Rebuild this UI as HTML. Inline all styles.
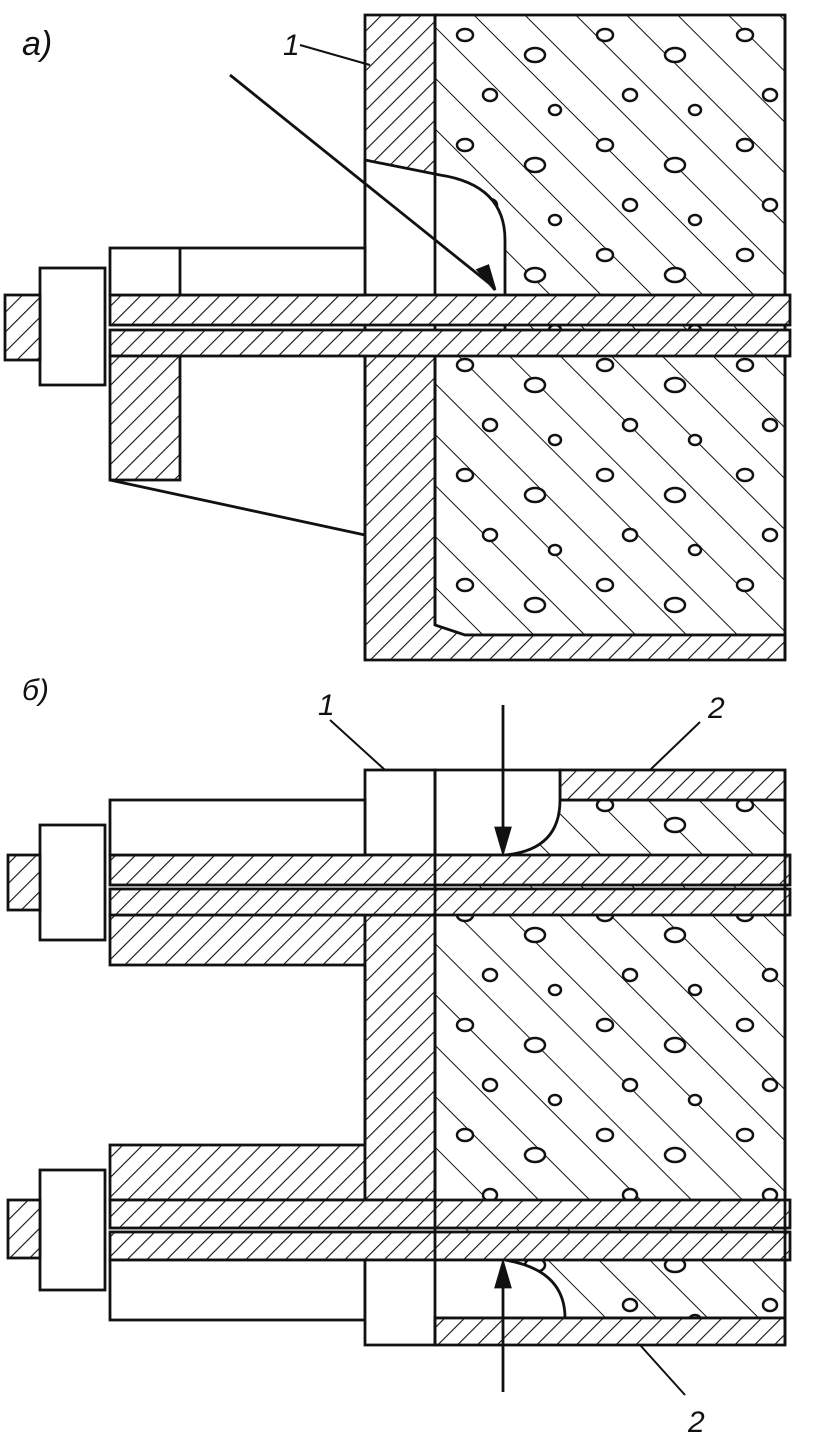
<!DOCTYPE html>
<html><head><meta charset="utf-8"><style>
html,body{margin:0;padding:0;background:#fff;}
svg{display:block;}
text{font-family:"Liberation Sans",sans-serif;font-style:italic;fill:#111;}
</style></head><body>
<svg width="817" height="1441" viewBox="0 0 817 1441" xmlns="http://www.w3.org/2000/svg">
<defs>
<pattern id="h" width="14" height="14" patternUnits="userSpaceOnUse" patternTransform="rotate(45)">
<rect width="14" height="14" fill="#fff"/><line x1="0" y1="0" x2="0" y2="14" stroke="#111" stroke-width="2.2"/></pattern>
<pattern id="c" width="36" height="36" patternUnits="userSpaceOnUse" patternTransform="rotate(-45)">
<rect width="36" height="36" fill="#fff"/><line x1="0" y1="0" x2="0" y2="36" stroke="#111" stroke-width="2"/></pattern>
<pattern id="o" width="140" height="110" patternUnits="userSpaceOnUse" x="435" y="15">
<ellipse cx="30" cy="20" rx="8" ry="6" fill="#fff" stroke="#111" stroke-width="2.5"/>
<ellipse cx="100" cy="40" rx="10" ry="7" fill="#fff" stroke="#111" stroke-width="2.5"/>
<ellipse cx="55" cy="80" rx="7" ry="6" fill="#fff" stroke="#111" stroke-width="2.5"/>
<ellipse cx="120" cy="95" rx="6" ry="5" fill="#fff" stroke="#111" stroke-width="2.5"/>
</pattern>
</defs>
<g stroke="#111" stroke-width="2.8" fill="none">
<!-- ===== a ===== -->
<rect x="435" y="15" width="350" height="620" fill="url(#c)"/>
<rect x="435" y="15" width="350" height="620" fill="url(#o)" stroke="none"/>
<path d="M365 15H435V625L465 635H785V660H365Z" fill="url(#h)"/>
<path d="M365 160L440 175Q505 185 505 240V355H365Z" fill="#fff"/>
<path d="M435 15V625M785 15V660" />
<rect x="110" y="295" width="680" height="30" fill="url(#h)"/>
<rect x="110" y="330" width="680" height="26" fill="url(#h)"/>
<rect x="110" y="248" width="255" height="47" fill="#fff"/>
<line x1="180" y1="248" x2="180" y2="295"/>
<rect x="110" y="356" width="70" height="124" fill="url(#h)"/>
<path d="M110 480L365 535M365 356V660"/>
<rect x="40" y="268" width="65" height="117" fill="#fff"/>
<rect x="5" y="295" width="35" height="65" fill="url(#h)"/>
<line x1="230" y1="75" x2="495" y2="288"/>
<path d="M495 290L478 270L488 266Z" fill="#111"/>
<line x1="300" y1="45" x2="370" y2="65" stroke-width="2"/>
<!-- ===== b ===== -->
<rect x="435" y="800" width="350" height="518" fill="url(#c)"/>
<rect x="435" y="800" width="350" height="518" fill="url(#o)" stroke="none"/>
<rect x="560" y="770" width="225" height="30" fill="url(#h)"/>
<path d="M435 770H560V800Q560 850 505 855H435Z" fill="#fff"/>
<rect x="365" y="770" width="70" height="85" fill="#fff"/>
<rect x="110" y="915" width="255" height="50" fill="url(#h)"/>
<rect x="110" y="1145" width="255" height="55" fill="url(#h)"/>
<rect x="365" y="915" width="70" height="285" fill="url(#h)"/>
<line x1="365" y1="965" x2="365" y2="1145"/>
<rect x="110" y="855" width="680" height="30" fill="url(#h)"/>
<rect x="110" y="889" width="680" height="26" fill="url(#h)"/>
<rect x="110" y="800" width="255" height="55" fill="#fff"/>
<rect x="40" y="825" width="65" height="115" fill="#fff"/>
<rect x="8" y="855" width="32" height="55" fill="url(#h)"/>
<rect x="110" y="1200" width="680" height="28" fill="url(#h)"/>
<rect x="110" y="1232" width="680" height="28" fill="url(#h)"/>
<rect x="110" y="1260" width="255" height="60" fill="#fff"/>
<path d="M365 1260H505Q565 1270 565 1318H435V1345H365Z" fill="#fff"/>
<rect x="435" y="1318" width="350" height="27" fill="url(#h)"/>
<rect x="40" y="1170" width="65" height="120" fill="#fff"/>
<rect x="8" y="1200" width="32" height="58" fill="url(#h)"/>
<path d="M435 770V1345M785 770V1345"/>
<line x1="503" y1="705" x2="503" y2="850"/>
<path d="M503 852L496 828H510Z" fill="#111"/>
<line x1="503" y1="1392" x2="503" y2="1265"/>
<path d="M503 1263L496 1287H510Z" fill="#111"/>
<line x1="330" y1="720" x2="385" y2="770" stroke-width="2"/>
<line x1="700" y1="722" x2="650" y2="770" stroke-width="2"/>
<line x1="640" y1="1345" x2="685" y2="1395" stroke-width="2"/>
</g>
<text x="22" y="55" font-size="34">а)</text>
<text x="283" y="55" font-size="30">1</text>
<text x="22" y="700" font-size="30">б)</text>
<text x="318" y="715" font-size="30">1</text>
<text x="708" y="718" font-size="30">2</text>
<text x="688" y="1432" font-size="30">2</text>
</svg>
</body></html>
